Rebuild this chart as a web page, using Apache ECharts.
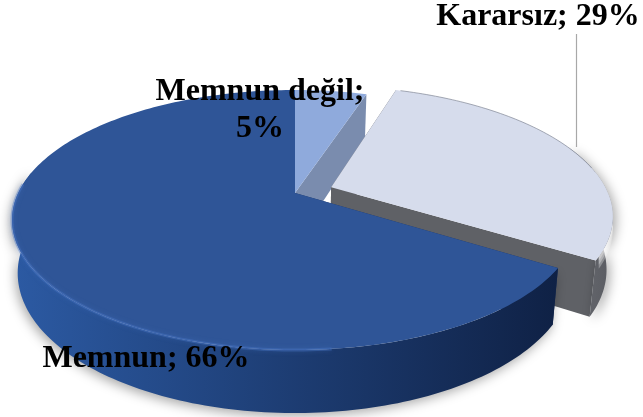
<!DOCTYPE html>
<html>
<head>
<meta charset="utf-8">
<style>html,body{margin:0;padding:0;background:#fff}#c{width:643px;height:417px}</style>
<script src="https://cdn.jsdelivr.net/npm/echarts@6/dist/echarts.min.js"></script>
</head>
<body>
<div id="c"></div>
<script>
// Data, in clockwise drawing order from 12 o'clock
var categories = ['Memnun değil', 'Kararsız', 'Memnun'];
var percents = [5, 29, 66];
var separators = [';\n', '; ', '; '];

// Styles, per slice
var topColors = ['#8faadc', '#d6dcec', '#2f5597'];
var cutColors = ['#7a8cae', '#5f6166', '#1a3260'];
var wallStops = [
  ['#7a8cae', '#7a8cae'],
  ['#6a6c72', '#5a5c62'],
  ['#2c5aa3', '#0f2145']
];
var explode = [0, 0.14, 0];
var labelSpots = [[260, 110], [538, 17], [146, 359]];

// Projection of the flat disc onto the picture (a perspective view)
var apexX = 295, apexY = 193, K = 0.2077, A = 276.8, B = 124.4;
var depthOffset = 51, bottomX = 0.98, bottomY = 1.077;

function project(u, v, bottom) {
  var w = 1 - K * v;
  var x = A * u / w, y = B * v / w;
  if (bottom) { x *= bottomX; y = y * bottomY + depthOffset; }
  return [apexX + x, apexY + y];
}
function shift(mid, t) { return [Math.sin(mid) * t, -Math.cos(mid) * t]; }

var total = percents.reduce(function (a, b) { return a + b; }, 0);
var running = 0;
var rows = percents.map(function (p, i) {
  var row = [i, p, running / total * Math.PI * 2, (running + p) / total * Math.PI * 2];
  running += p;
  return row;
});

function rim(a0, a1, off, bottom) {
  var n = Math.max(4, Math.ceil((a1 - a0) / 0.02)), pts = [];
  for (var i = 0; i <= n; i++) {
    var a = a0 + (a1 - a0) * i / n;
    pts.push(project(Math.sin(a) + off[0], -Math.cos(a) + off[1], bottom));
  }
  return pts;
}
function grad(stops) {
  return new echarts.graphic.LinearGradient(0, 0, 1, 0, [
    { offset: 0, color: stops[0] }, { offset: 1, color: stops[1] }
  ]);
}
function band(pts, drop) {
  var low = pts.map(function (p) { return [p[0], p[1] + drop]; });
  return pts.concat(low.reverse());
}

function renderSlice(params, api) {
  var i = api.value(0), a0 = api.value(2), a1 = api.value(3);
  var off = shift((a0 + a1) / 2, explode[i]);
  var topRim = rim(a0, a1, off, false), botRim = rim(a0, a1, off, true);
  var apexT = project(off[0], off[1], false), apexB = project(off[0], off[1], true);
  var children = [];
  // cut walls
  [0, topRim.length - 1].forEach(function (k) {
    children.push({
      type: 'polygon',
      shape: { points: [apexT, topRim[k], botRim[k], apexB] },
      style: { fill: cutColors[i] }
    });
  });
  // outer wall: only the arc that faces the viewer
  if (i !== 0) {
    var w0 = i === 1 ? a0 + (a1 - a0) * 0.5 : a0;
    var w1 = i === 1 ? a1 : a1 - 1.4;
    children.push({
      type: 'polygon',
      shape: { points: rim(w0, w1, off, false).concat(rim(w0, w1, off, true).reverse()) },
      style: {
        fill: grad(wallStops[i]),
        shadowBlur: 12,
        shadowColor: 'rgba(0,0,0,0.35)',
        shadowOffsetX: i === 2 ? -2 : 3,
        shadowOffsetY: 3
      }
    });
  }
  // soft highlight just under the rim of the light slice
  if (i === 1) {
    var hi = rim(a0 + (a1 - a0) * 0.62, a1 - 0.03, off, false);
    [12, 8, 4].forEach(function (drop) {
      children.push({
        type: 'polygon',
        shape: { points: band(hi, drop) },
        style: { fill: 'rgba(255,255,255,0.3)' }
      });
    });
  }
  // top face
  children.push({
    type: 'polygon',
    shape: { points: [apexT].concat(topRim) },
    style: { fill: topColors[i] }
  });
  // bevel on the front rim
  if (i === 2) {
    children.push({
      type: 'polyline',
      shape: { points: rim(a0 + 0.9, a1 - 1.5, off, false) },
      style: { fill: null, stroke: 'rgba(74,120,200,0.4)', lineWidth: 3, shadowBlur: 5, shadowColor: 'rgba(74,120,200,0.7)' }
    });
  }
  if (i === 1) {
    children.push({
      type: 'polyline',
      shape: { points: rim(a0 + 0.02, a0 + (a1 - a0) * 0.6, off, false) },
      style: { fill: null, stroke: 'rgba(130,135,150,0.7)', lineWidth: 1 }
    });
  }
  return { type: 'group', children: children };
}

function renderLabel(params, api) {
  var i = api.value(0), spot = labelSpots[i];
  var children = [];
  if (i === 1) {
    children.push({
      type: 'line',
      shape: { x1: 576.5, y1: 34, x2: 576.5, y2: 147 },
      style: { stroke: '#a8a8a8', lineWidth: 1.2 }
    });
  }
  children.push({
    type: 'text',
    style: {
      text: categories[i] + separators[i] + api.value(1) + '%',
      x: spot[0], y: spot[1],
      align: 'center', verticalAlign: 'middle',
      fontFamily: '"Liberation Serif", serif', fontWeight: 'bold', fontSize: 32, lineHeight: 37,
      fill: '#000'
    }
  });
  return { type: 'group', children: children };
}

var chart = echarts.init(document.getElementById('c'), null, { renderer: 'canvas' });
chart.setOption({
  animation: false,
  backgroundColor: '#fff',
  series: [
    { type: 'custom', coordinateSystem: 'none', silent: true, z: 2, data: rows, renderItem: renderSlice },
    { type: 'custom', coordinateSystem: 'none', silent: true, z: 5, data: rows, renderItem: renderLabel }
  ]
});
</script>
</body>
</html>
